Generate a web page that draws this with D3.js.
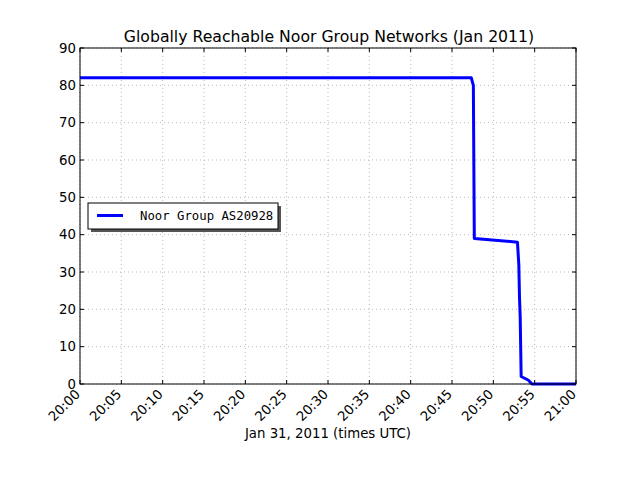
<!DOCTYPE html>
<html>
<head>
<meta charset="utf-8">
<script src="https://cdn.jsdelivr.net/npm/d3@7"></script>
<style>
  body { margin: 0; background: #fff; }
  svg { display: block; }
  text { font-family: "DejaVu Sans", sans-serif; fill: #000; }
</style>
</head>
<body>
<div id="viz"></div>
<script>
(function() {
  var times, values, xTicks, yTicks, seriesName, parse, margin, width, height, svg, g, x, y, pts, line, lg;

  // samples (UTC, Jan 31 2011)
  times = ["20:00:00", "20:47:20", "20:47:35", "20:47:42", "20:52:55", "20:53:05", "20:53:10",
           "20:53:15", "20:53:22", "20:54:15", "20:54:40", "21:00:00"];
  values = [82, 82, 80, 39, 38, 32, 23, 18, 2, 1, 0, 0];

  xTicks = ["20:00", "20:05", "20:10", "20:15", "20:20", "20:25", "20:30", "20:35",
            "20:40", "20:45", "20:50", "20:55", "21:00"];
  yTicks = [0, 10, 20, 30, 40, 50, 60, 70, 80, 90];
  seriesName = "Noor Group AS20928";

  parse = d3.timeParse("%H:%M:%S");
  margin = {left: 80, top: 48, right: 64, bottom: 96};
  width = 640 - margin.left - margin.right;
  height = 480 - margin.top - margin.bottom;

  svg = d3.select("#viz").append("svg").attr("width", 640).attr("height", 480);
  g = svg.append("g").attr("transform", "translate(" + margin.left + "," + margin.top + ")");

  x = d3.scaleTime().domain([parse("20:00:00"), parse("21:00:00")]).range([0, width]);
  y = d3.scaleLinear().domain([0, 90]).range([height, 0]);

  // grid
  g.selectAll("line.gx").data(xTicks).enter().append("line")
    .attr("x1", function(d) { return x(parse(d + ":00")); })
    .attr("x2", function(d) { return x(parse(d + ":00")); })
    .attr("y1", 0).attr("y2", height)
    .style("stroke", "#000").style("stroke-opacity", 0.45).style("stroke-width", 0.6)
    .style("stroke-dasharray", "1,3");
  g.selectAll("line.gy").data(yTicks).enter().append("line")
    .attr("y1", function(d) { return y(d); })
    .attr("y2", function(d) { return y(d); })
    .attr("x1", 0).attr("x2", width)
    .style("stroke", "#000").style("stroke-opacity", 0.45).style("stroke-width", 0.6)
    .style("stroke-dasharray", "1,3");

  // data line
  pts = times.map(function(t, i) { return {t: parse(t), v: values[i]}; });
  line = d3.line().x(function(d) { return x(d.t); }).y(function(d) { return y(d.v); });
  g.append("path").datum(pts).attr("d", line)
    .style("fill", "none").style("stroke", "#0000ff").style("stroke-width", 3)
    .style("stroke-linejoin", "round");

  // frame
  g.append("rect").attr("width", width).attr("height", height)
    .style("fill", "none").style("stroke", "#000").style("stroke-width", 1);

  // inward ticks on all four sides
  g.selectAll("line.tx").data(xTicks).enter().append("g").each(function(d) {
    var xx = x(parse(d + ":00")), s = d3.select(this);
    s.append("line").attr("x1", xx).attr("x2", xx).attr("y1", height).attr("y2", height - 4).style("stroke", "#000");
    s.append("line").attr("x1", xx).attr("x2", xx).attr("y1", 0).attr("y2", 4).style("stroke", "#000");
    s.append("text").attr("transform", "translate(" + (xx + 1) + "," + (height + 11) + ") rotate(-45)")
      .attr("text-anchor", "end").style("font-size", "13.3px").text(d);
  });
  g.selectAll("line.ty").data(yTicks).enter().append("g").each(function(d) {
    var yy = y(d), s = d3.select(this);
    s.append("line").attr("y1", yy).attr("y2", yy).attr("x1", 0).attr("x2", 4).style("stroke", "#000");
    s.append("line").attr("y1", yy).attr("y2", yy).attr("x1", width).attr("x2", width - 4).style("stroke", "#000");
    s.append("text").attr("x", -4).attr("y", yy).attr("dy", "0.36em")
      .attr("text-anchor", "end").style("font-size", "13.3px").text(d);
  });

  // title and label
  svg.append("text").attr("x", margin.left + width / 2 + 1).attr("y", 42)
    .attr("text-anchor", "middle").style("font-size", "15.7px")
    .text("Globally Reachable Noor Group Networks (Jan 2011)");
  svg.append("text").attr("x", margin.left + width / 2).attr("y", 438)
    .attr("text-anchor", "middle").style("font-size", "13.3px")
    .text("Jan 31, 2011 (times UTC)");

  // legend with shadow
  lg = svg.append("g").attr("transform", "translate(88,203)");
  lg.append("rect").attr("x", 3).attr("y", 3).attr("width", 190).attr("height", 26).style("fill", "#555");
  lg.append("rect").attr("width", 190).attr("height", 26)
    .style("fill", "#fff").style("stroke", "#000").style("stroke-width", 1);
  lg.append("line").attr("x1", 9).attr("x2", 35).attr("y1", 12.5).attr("y2", 12.5)
    .style("stroke", "#0000ff").style("stroke-width", 3);
  lg.append("text").attr("x", 52).attr("y", 13).attr("dy", "0.36em")
    .style("font-family", "'DejaVu Sans Mono', monospace").style("font-size", "12.3px")
    .text(seriesName);
}).call(this);
</script>
</body>
</html>
